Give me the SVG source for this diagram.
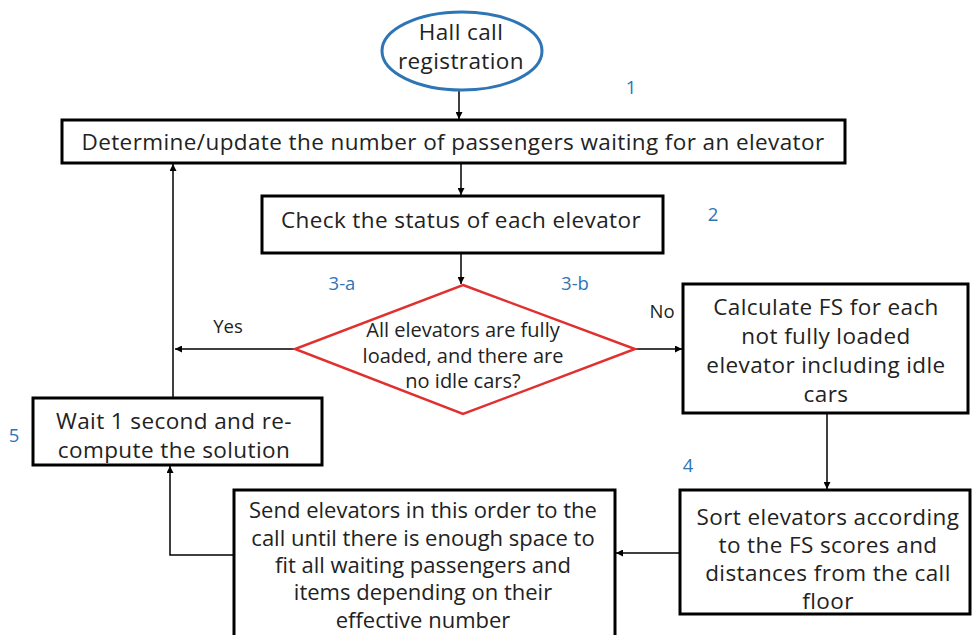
<svg xmlns="http://www.w3.org/2000/svg" width="972" height="635" viewBox="0 0 972 635">
<style>
.box{fill:#fff;stroke:#000;stroke-width:3}
.t{font-family:"Open Sans","Liberation Sans",sans-serif;font-size:22.5px;letter-spacing:0.4px;fill:#222;text-anchor:middle}
.t2{font-family:"Open Sans","Liberation Sans",sans-serif;font-size:22px;fill:#222;text-anchor:middle}
.ts{font-family:"Open Sans","Liberation Sans",sans-serif;font-size:20px;fill:#222;text-anchor:middle}
.lbl{font-family:"Open Sans","Liberation Sans",sans-serif;font-size:18.5px;fill:#2E75B6;text-anchor:middle}
.yn{font-family:"Open Sans","Liberation Sans",sans-serif;font-size:18.5px;fill:#222;text-anchor:middle}
.c{fill:none;stroke:#000;stroke-width:1.5}
</style>
<defs>
<marker id="ah" viewBox="0 0 10 10" refX="10" refY="5" markerWidth="7" markerHeight="7" orient="auto" markerUnits="userSpaceOnUse">
<path d="M0,0 L10,5 L0,10 z" fill="#000"/>
</marker>
</defs>
<rect width="972" height="635" fill="#fff"/>
<g id="connectors">
<line class="c" x1="459" y1="90" x2="459" y2="119" marker-end="url(#ah)"/>
<line class="c" x1="461" y1="164" x2="461" y2="195" marker-end="url(#ah)"/>
<line class="c" x1="461" y1="254" x2="461" y2="284" marker-end="url(#ah)"/>
<line class="c" x1="295" y1="349" x2="175" y2="349" marker-end="url(#ah)"/>
<line class="c" x1="635" y1="349" x2="682" y2="349" marker-end="url(#ah)"/>
<line class="c" x1="827" y1="414" x2="827" y2="489" marker-end="url(#ah)"/>
<line class="c" x1="680" y1="553" x2="616" y2="553" marker-end="url(#ah)"/>
<polyline class="c" points="234,555 170,555 170,466" marker-end="url(#ah)"/>
<line class="c" x1="173" y1="397" x2="173" y2="164" marker-end="url(#ah)"/>
</g>
<g id="start">
<ellipse cx="462" cy="51" rx="80" ry="39" fill="#fff" stroke="#2E75B6" stroke-width="3"/>
<text class="t" x="461" y="40">Hall call</text>
<text class="t" x="461" y="69">registration</text>
</g>
<g id="determine">
<rect class="box" x="62" y="120" width="783" height="43"/>
<text class="t" x="453" y="150">Determine/update the number of passengers waiting for an elevator</text>
</g>
<g id="check">
<rect class="box" x="262" y="196" width="401" height="57"/>
<text class="t" x="461" y="228">Check the status of each elevator</text>
</g>
<g id="decision">
<polygon points="463,285 635,349 463,414 295,349" fill="#fff" stroke="#E03030" stroke-width="2.5"/>
<text class="ts" x="463" y="337">All elevators are fully</text>
<text class="ts" x="463" y="363">loaded, and there are</text>
<text class="ts" x="463" y="388">no idle cars?</text>
</g>
<g id="calculate">
<rect class="box" x="683" y="284" width="285" height="129"/>
<text class="t" x="826" y="315">Calculate FS for each</text>
<text class="t" x="826" y="344">not fully loaded</text>
<text class="t" x="826" y="373">elevator including idle</text>
<text class="t" x="826" y="402">cars</text>
</g>
<g id="sort">
<rect class="box" x="680" y="490" width="290" height="124"/>
<text class="t" x="828" y="525">Sort elevators according</text>
<text class="t" x="828" y="553">to the FS scores and</text>
<text class="t" x="828" y="581">distances from the call</text>
<text class="t" x="828" y="609">floor</text>
</g>
<g id="send">
<rect class="box" x="234" y="490" width="381" height="150"/>
<text class="t2" x="423" y="518">Send elevators in this order to the</text>
<text class="t2" x="423" y="546">call until there is enough space to</text>
<text class="t2" x="423" y="573">fit all waiting passengers and</text>
<text class="t2" x="423" y="600">items depending on their</text>
<text class="t2" x="423" y="628">effective number</text>
</g>
<g id="wait">
<rect class="box" x="33" y="398" width="289" height="67"/>
<text class="t" x="174" y="429">Wait 1 second and re-</text>
<text class="t" x="174" y="458">compute the solution</text>
</g>
<g id="labels">
<text class="lbl" x="631" y="94">1</text>
<text class="lbl" x="713" y="221">2</text>
<text class="lbl" x="342" y="290">3-a</text>
<text class="lbl" x="575" y="290">3-b</text>
<text class="lbl" x="688" y="472">4</text>
<text class="lbl" x="14" y="442">5</text>
<text class="yn" x="228" y="333">Yes</text>
<text class="yn" x="662" y="318">No</text>
</g>
</svg>
